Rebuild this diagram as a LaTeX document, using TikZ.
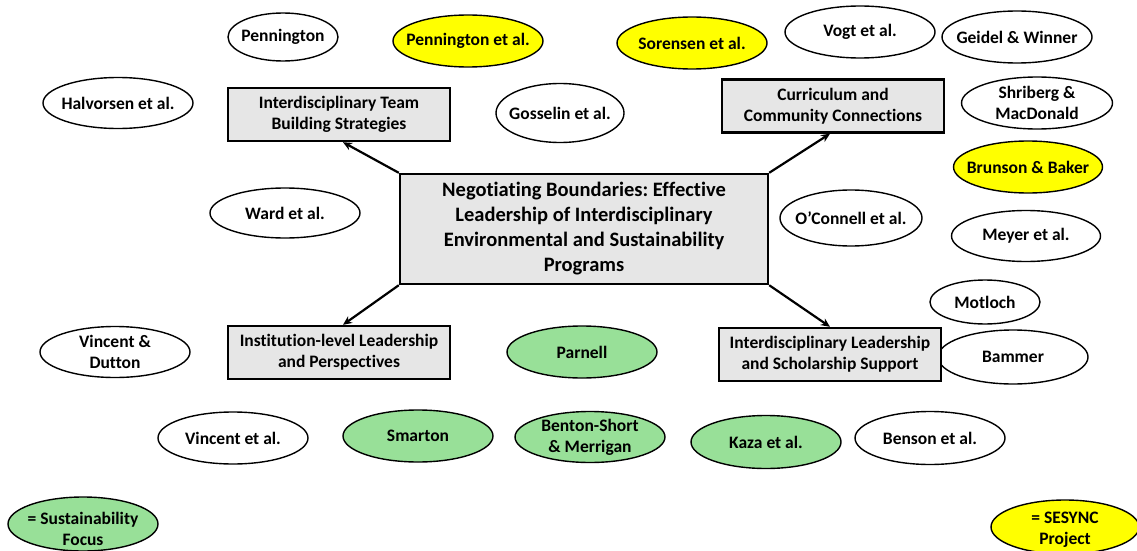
\documentclass[tikz,border=0pt]{standalone}
\usepackage{fontspec}
\setmainfont[Ligatures={NoCommon}]{Carlito}
\usetikzlibrary{shapes.geometric,arrows.meta}
\definecolor{boxgray}{RGB}{230,230,230}
\definecolor{sesync}{RGB}{255,255,0}
\definecolor{sustain}{RGB}{152,224,152}
\tikzset{
  every node/.style={font=\bfseries\fontsize{17.5}{21}\selectfont, align=center},
  % fixed-size oval; its caption is set as a centred label so the oval keeps its size
  ref/.style={ellipse, draw=black, line width=1.4pt, fill=white, inner sep=0pt, minimum width=150pt, minimum height=52pt},
  refy/.style={ref, fill=sesync},
  refg/.style={ref, fill=sustain},
  caption/.style={label={[inner sep=0pt]center:#1}},
  theme/.style={rectangle, draw=black, line width=2.4pt, fill=boxgray, minimum width=222pt, minimum height=53pt, inner sep=0pt},
  core/.style={rectangle, draw=black, line width=2.4pt, fill=boxgray, minimum width=368pt, minimum height=110pt, inner sep=0pt, font=\bfseries\fontsize{20.5}{25}\selectfont},
  link/.style={-{Stealth[length=9pt,width=8pt]}, line width=2.2pt, black}
}
\begin{document}
\begin{tikzpicture}[x=1pt,y=-1pt]
\useasboundingbox (0,0) rectangle (1137,551);
% references around the themes
\node[ref, minimum width=110pt, minimum height=48pt, caption={Pennington}] (pen) at (283,37) {};
\node[refy, caption={Pennington et al.}] (penetal) at (468,41) {};
\node[refy, caption={Sorensen et al.}] (sor) at (692,43) {};
\node[ref, caption={Vogt et al.}] (vogt) at (860,32) {};
\node[ref, caption={Geidel \& Winner}] (geidel) at (1017,37) {};
\node[ref, minimum height=51pt, caption={Halvorsen et al.}] (halv) at (118,103) {};
\node[ref, minimum width=128pt, minimum height=59pt, caption={Gosselin et al.}] (goss) at (560,113) {};
\node[ref, minimum width=151pt, caption={Shriberg \&\\MacDonald}] (shri) at (1037,103) {};
\node[refy, minimum width=149pt, caption={Brunson \& Baker}] (brun) at (1028,167) {};
\node[ref, minimum height=50pt, caption={Ward et al.}] (ward) at (285,213) {};
\node[ref, minimum width=142pt, minimum height=56pt, caption={O’Connell et al.}] (ocon) at (851,218) {};
\node[ref, minimum width=149pt, minimum height=51pt, caption={Meyer et al.}] (meyer) at (1026,236) {};
\node[ref, minimum width=110pt, minimum height=44pt, caption={Motloch}] (mot) at (985,302) {};
\node[ref, minimum height=51pt, caption={Vincent \&\\Dutton}] (vdut) at (115,352) {};
\node[refg, caption={Parnell}] (parn) at (582,352) {};
\node[ref, minimum height=54pt, caption={Bammer}] (bam) at (1013,357) {};
\node[ref, caption={Vincent et al.}] (vinc) at (233,438) {};
\node[refg, caption={Smarton}] (smar) at (418,436) {};
\node[refg, minimum height=51pt, caption={Benton-Short\\\& Merrigan}] (bent) at (590,437) {};
\node[refg, minimum height=53pt, caption={Kaza et al.}] (kaza) at (766,442) {};
\node[ref, minimum height=53pt, caption={Benson et al.}] (bens) at (930,438) {};
% legend: shaded ovals with their captions set a little low
\node[refg, minimum height=54pt] (legg) at (83,524) {};
\node (leggtext) at ([yshift=-5pt]legg.center) {= Sustainability\\Focus};
\node[refy, minimum width=148pt, minimum height=54pt] (legy) at (1065,527) {};
\node (legytext) at ([yshift=-3pt]legy.center) {= SESYNC\\Project};
% themes
\node[core] (main) at (584,229) {Negotiating Boundaries:\ Effective\\Leadership of Interdisciplinary\\Environmental and Sustainability\\Programs};
\node[theme] (team) at (339,114.5) {Interdisciplinary Team\\Building Strategies};
\node[theme] (curr) at (833,106) {Curriculum and\\Community Connections};
\node[theme] (inst) at (339,352.5) {Institution-level Leadership\\and Perspectives};
\node[theme] (lead) at (830,354.5) {Interdisciplinary Leadership\\and Scholarship Support};
% connectors
\draw[link] (main.north west) -- ([xshift=4pt]team.south);
\draw[link] (main.north east) -- ([xshift=-3pt]curr.south);
\draw[link] (main.south west) -- ([xshift=4pt]inst.north);
\draw[link] (main.south east) -- (lead.north);
\end{tikzpicture}
\end{document}
